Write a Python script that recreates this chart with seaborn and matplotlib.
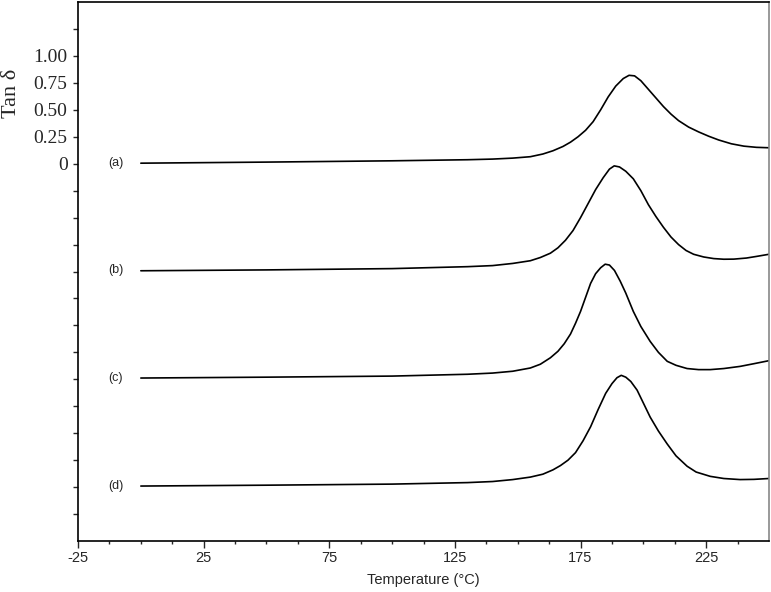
import numpy as np
import pandas as pd
import matplotlib
matplotlib.use("Agg")
import matplotlib.pyplot as plt
import seaborn as sns

# tan delta curves, each relative to its own baseline
temp_a = [0, 50, 100, 130, 140, 148, 155, 160, 164, 168, 171, 174, 177, 180, 183, 186, 189, 192,
          194.3, 196.5, 199, 202, 205, 208, 211, 214, 218, 222, 226, 230, 235, 240, 245, 250]
tan_a = [0.005, 0.015, 0.027, 0.037, 0.043, 0.052, 0.065, 0.09, 0.12, 0.16, 0.20, 0.25, 0.31, 0.39,
         0.50, 0.62, 0.72, 0.79, 0.82, 0.815, 0.77, 0.69, 0.61, 0.53, 0.46, 0.40, 0.34, 0.295, 0.255,
         0.22, 0.185, 0.163, 0.152, 0.148]

temp_b = [0, 50, 100, 130, 140, 148, 155, 159, 163, 166, 169, 172, 175, 178, 181, 184, 186.5, 188.4,
          190.5, 193, 196, 199, 202, 205, 208, 211, 214, 217, 220, 224, 228, 232, 236, 241, 245, 250]
tan_b = [0.007, 0.015, 0.027, 0.045, 0.055, 0.075, 0.10, 0.13, 0.17, 0.22, 0.29, 0.38, 0.50, 0.63,
         0.76, 0.87, 0.95, 0.98, 0.97, 0.93, 0.86, 0.75, 0.62, 0.51, 0.41, 0.32, 0.25, 0.195, 0.16,
         0.135, 0.12, 0.114, 0.115, 0.125, 0.14, 0.16]

temp_c = [0, 50, 100, 130, 140, 148, 155, 159, 163, 166, 168.5, 171, 173, 175, 177, 179, 181, 183,
          184.8, 186.5, 188.5, 190.8, 193, 196, 199, 202.7, 206, 209.5, 213, 217.4, 222, 226.6, 232,
          238.5, 244, 250]
tan_c = [0.012, 0.02, 0.03, 0.047, 0.058, 0.075, 0.105, 0.14, 0.20, 0.26, 0.33, 0.42, 0.52, 0.63,
         0.76, 0.89, 0.98, 1.035, 1.068, 1.06, 1.01, 0.91, 0.80, 0.63, 0.49, 0.352, 0.25, 0.167,
         0.13, 0.10, 0.09, 0.09, 0.10, 0.12, 0.145, 0.173]

temp_d = [0, 50, 100, 130, 140, 148, 155, 160, 164, 167, 170, 173, 176, 179, 182, 185, 187.5, 189.5,
          191.2, 193, 195, 197.5, 200, 202.7, 206, 209.5, 213, 217.4, 221, 226.6, 232, 238.5, 244, 250]
tan_d = [0.01, 0.018, 0.028, 0.042, 0.052, 0.07, 0.093, 0.12, 0.16, 0.20, 0.25, 0.32, 0.43, 0.56,
         0.72, 0.87, 0.96, 1.015, 1.037, 1.02, 0.98, 0.90, 0.78, 0.65, 0.52, 0.40, 0.29, 0.194,
         0.14, 0.10, 0.08, 0.07, 0.072, 0.08]

samples = ["(a)", "(b)", "(c)", "(d)"]
offsets = [0, -1, -2, -3]

ytick_vals = [0, 0.25, 0.5, 0.75, 1.0]
ytick_labels = ["0", "0.25", "0.50", "0.75", "1.00"]
xtick_vals = [-25, 25, 75, 125, 175, 225]

frames = []
for name, t, v, off in zip(samples, [temp_a, temp_b, temp_c, temp_d],
                           [tan_a, tan_b, tan_c, tan_d], offsets):
    frames.append(pd.DataFrame({"T": t, "y": np.array(v) + off, "sample": name}))
df = pd.concat(frames, ignore_index=True)

sns.set_style("ticks")
plt.rcParams["font.family"] = ["Liberation Sans", "DejaVu Sans"]

fig = plt.figure(figsize=(7.71, 5.92), dpi=100)
ax = fig.add_axes([0.1012, 0.0861, 0.8962, 0.9105])

sns.lineplot(data=df, x="T", y="y", hue="sample", palette=["black"] * 4,
             linewidth=1.2, legend=False, sort=False, ax=ax)

for name, off in zip(samples, offsets):
    ax.text(-10, off + 0.01, name, fontsize=9, ha="center", va="center")

ax.set_xlim(-25, 250)
ax.set_ylim(-3.5, 1.5)

ax.set_xticks(xtick_vals)
ax.set_xticks(np.arange(-25, 250, 12.5), minor=True)
ax.set_xticklabels([str(x) for x in xtick_vals], fontsize=10.5)

ax.set_yticks(ytick_vals)
ax.set_yticklabels(ytick_labels, fontsize=14, family="Liberation Serif")
ax.set_yticks([v for v in np.arange(-3.25, 1.5, 0.25) if v not in ytick_vals], minor=True)

ax.tick_params(axis="x", which="major", length=5, width=1, pad=2, direction="out")
ax.tick_params(axis="x", which="minor", length=2.5, width=1, direction="out")
ax.tick_params(axis="y", which="both", length=3.5, width=1, pad=4, direction="out")

ax.set_xlabel("Temperature (°C)", fontsize=10.5, labelpad=6)
ax.set_ylabel("Tan δ", fontsize=16, family="Liberation Serif")
ax.yaxis.set_label_coords(-0.083, 0.83)

for side in ["left", "bottom", "top"]:
    ax.spines[side].set_linewidth(1.2)
    ax.spines[side].set_color("black")
ax.spines["right"].set_color("#888888")
ax.spines["right"].set_linewidth(1.2)

fig.savefig("out.png", dpi=100)
